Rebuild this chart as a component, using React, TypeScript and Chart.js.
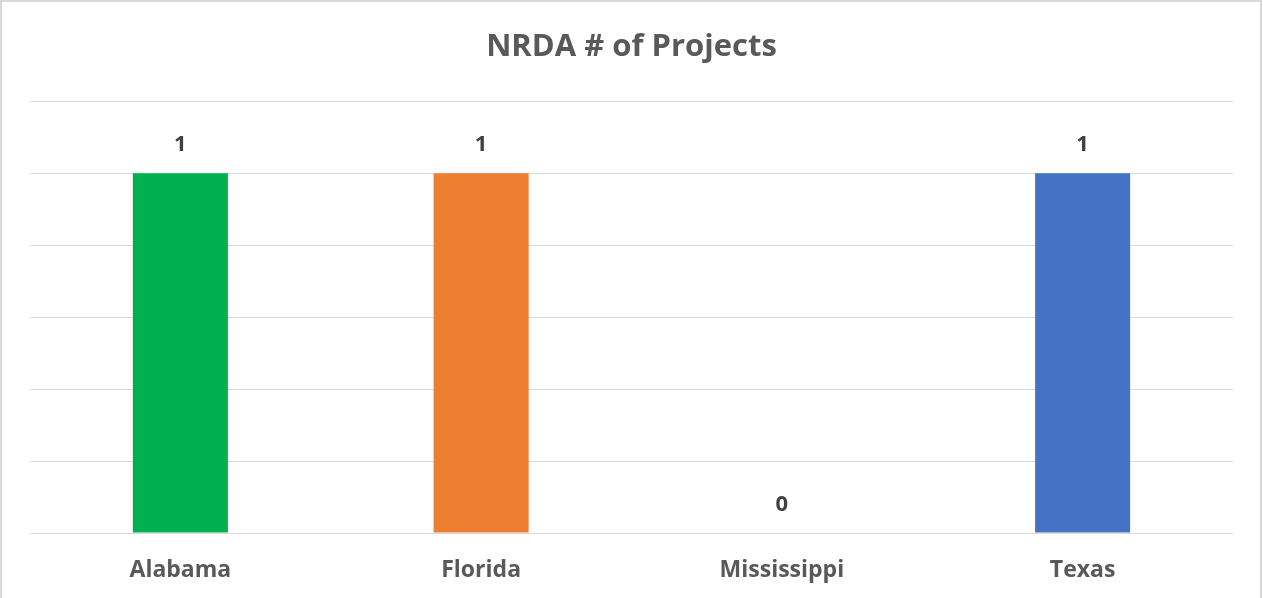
import React, { useEffect, useRef } from "react";
import { Chart, registerables } from "chart.js";

Chart.register(...registerables);

const title = "NRDA # of Projects";
const categories = ["Alabama", "Florida", "Mississippi", "Texas"];
const projectCounts = [1, 1, 0, 1];
const barColors = ["#00B050", "#ED7D31", "#A5A5A5", "#4472C4"];
const yMin = 0;
const yMax = 1.2;
const yStep = 0.2;

const FONT = "'Open Sans', 'Noto Sans', sans-serif";

const valueLabels = {
  id: "valueLabels",
  afterDatasetsDraw(chart: any) {
    const ctx = chart.ctx;
    const meta = chart.getDatasetMeta(0);
    ctx.save();
    ctx.font = `bold 22px ${FONT}`;
    ctx.fillStyle = "#404040";
    ctx.textAlign = "center";
    ctx.textBaseline = "middle";
    meta.data.forEach((el: any, i: number) => {
      const v = chart.data.datasets[0].data[i];
      ctx.fillText(String(v), el.x, el.y - 28);
    });
    ctx.restore();
  },
};

export default function App() {
  const ref = useRef<HTMLCanvasElement | null>(null);
  useEffect(() => {
    if (!ref.current) return;
    const chart = new Chart(ref.current, {
      type: "bar",
      data: {
        labels: categories,
        datasets: [
          {
            data: projectCounts,
            backgroundColor: barColors,
            borderWidth: 0,
            barPercentage: 1,
            categoryPercentage: 0.316,
          },
        ],
      },
      options: {
        animation: false,
        responsive: true,
        maintainAspectRatio: false,
        layout: { padding: { left: 30, right: 30, top: 0, bottom: 0 } },
        plugins: {
          legend: { display: false },
          tooltip: { enabled: false },
          title: {
            display: true,
            text: title,
            color: "#595959",
            font: { family: FONT, size: 31, weight: "bold", lineHeight: 1.2 },
            padding: { top: 29, bottom: 35 },
          },
        },
        scales: {
          x: {
            grid: { display: false, drawTicks: false },
            border: { display: false },
            ticks: {
              color: "#595959",
              font: { family: FONT, size: 23, weight: "bold", lineHeight: 1.2 },
              padding: 24,
            },
            afterFit(scale: any) {
              scale.height = 65;
            },
          },
          y: {
            min: yMin,
            max: yMax,
            grid: { color: "#D9D9D9", lineWidth: 1, drawTicks: false },
            border: { display: false },
            ticks: { display: false, stepSize: yStep },
          },
        },
      },
      plugins: [valueLabels],
    });
    return () => chart.destroy();
  }, []);

  return (
    <div style={{ position: "absolute", left: 0, top: 0, width: 1263, height: 598, background: "#fff", overflow: "hidden" }}>
      <div
        style={{
          position: "absolute",
          left: 0,
          top: 0,
          width: 1262,
          height: 620,
          boxSizing: "border-box",
          border: "2px solid #D9D9D9",
        }}
      />
      <div style={{ position: "absolute", left: 0, top: 0, width: 1263, height: 598 }}>
        <canvas ref={ref} />
      </div>
    </div>
  );
}
